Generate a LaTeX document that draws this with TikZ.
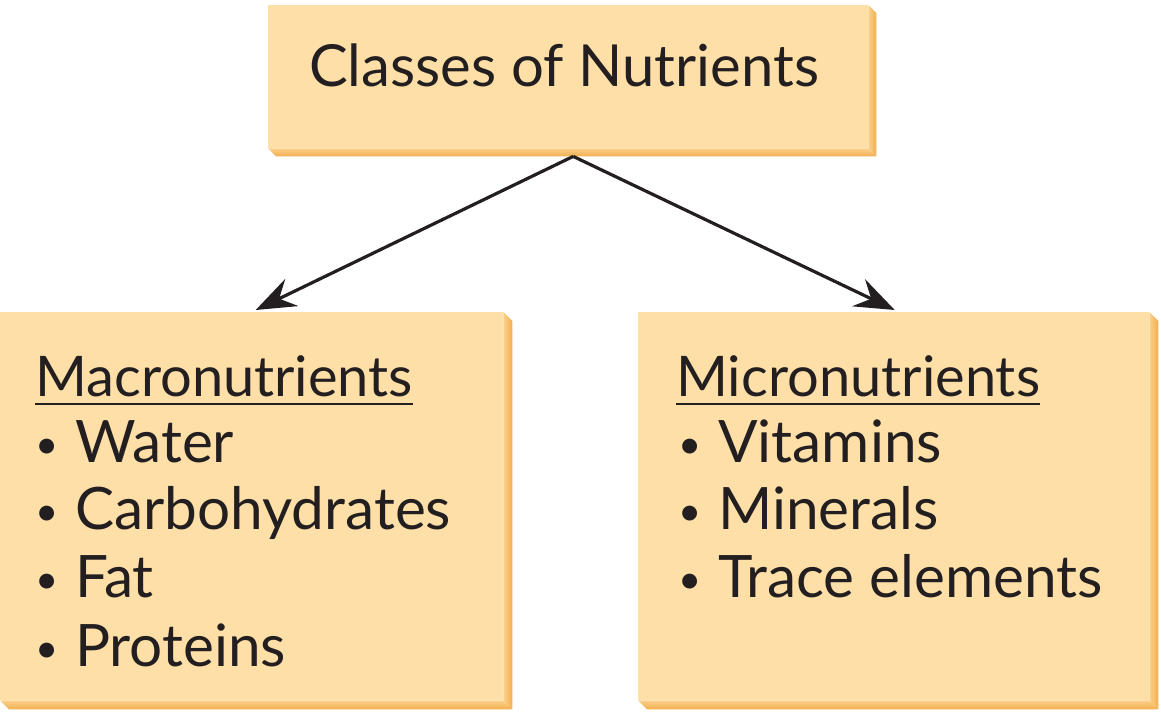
\documentclass[tikz,border=0pt]{standalone}
\usepackage{fontspec}
\setmainfont{Lato}
\usetikzlibrary{arrows.meta,backgrounds,calc}
\definecolor{faceC}{HTML}{FDDFA7}
\definecolor{sideL}{HTML}{FAD08A}
\definecolor{sideD}{HTML}{F2AE4E}
\definecolor{inkC}{HTML}{231F20}
\tikzset{
  face/.style={fill=faceC, draw=none, inner sep=0pt, rectangle},
  txt/.style={text=inkC, inner sep=0pt, anchor=base west},
  hdr/.style={txt, font=\fontsize{56}{68}\selectfont},
  itm/.style={txt, font=\fontsize{58.5}{68}\selectfont},
  uline/.style={draw=inkC, line width=2pt},
  conn/.style={color=inkC, line width=3.2pt, -{Stealth[length=40pt, width=30pt, inset=14pt, fill=inkC]}}
}
\newcommand{\bul}{\makebox[40pt][l]{\raisebox{4pt}{\fontsize{40}{40}\selectfont •}}}
\newcommand{\bevelbox}[2]{%
  \begin{scope}[on background layer]
    \shade[left color=sideL, right color=sideD]
      (#1.north east) -- ($(#1.north east)+(#2,-#2)$) -- ($(#1.south east)+(#2,-#2)$) -- (#1.south east) -- cycle;
    \shade[top color=sideL, bottom color=sideD]
      (#1.south west) -- (#1.south east) -- ($(#1.south east)+(#2,-#2)$) -- ($(#1.south west)+(#2,-#2)$) -- cycle;
  \end{scope}
}
\begin{document}
\begin{tikzpicture}[x=1pt,y=1pt]
\useasboundingbox (0,0) rectangle (1161,722);
% boxes (faces)
\node[face, minimum width=600pt, minimum height=143pt, anchor=north west] (top) at (268,717) {};
\node[face, minimum width=503pt, minimum height=388pt, anchor=north west] (macro) at (0,410) {};
\node[face, minimum width=511pt, minimum height=388pt, anchor=north west] (micro) at (638,410) {};
\bevelbox{top}{8}
\bevelbox{macro}{9}
\bevelbox{micro}{9}
% title
\node[txt, anchor=base, font=\fontsize{58}{68}\selectfont] (title) at (564,635) {Classes of Nutrients};
% macronutrients
\node[hdr] (mach) at (35,325) {Macronutrients};
\draw[uline] ($(mach.base west)+(0,-7)$) -- ($(mach.base east)+(0,-7)$);
\node[itm] (mac1) at (35,259) {\bul Water};
\node[itm] (mac2) at (35,192) {\bul Carbohydrates};
\node[itm] (mac3) at (35,124) {\bul Fat};
\node[itm] (mac4) at (35,55) {\bul Proteins};
% micronutrients
\node[hdr] (mich) at (676,325) {Micronutrients};
\draw[uline] ($(mich.base west)+(0,-7)$) -- ($(mich.base east)+(0,-7)$);
\node[itm] (mic1) at (678,259) {\bul Vitamins};
\node[itm] (mic2) at (678,192) {\bul Minerals};
\node[itm] (mic3) at (678,124) {\bul Trace elements};
% connectors
\draw[conn] ($(top.south)+(5,-8)$) -- ($(macro.north)+(4,2)$);
\draw[conn] ($(top.south)+(5,-8)$) -- ($(micro.north)+(1,2)$);
\end{tikzpicture}
\end{document}
